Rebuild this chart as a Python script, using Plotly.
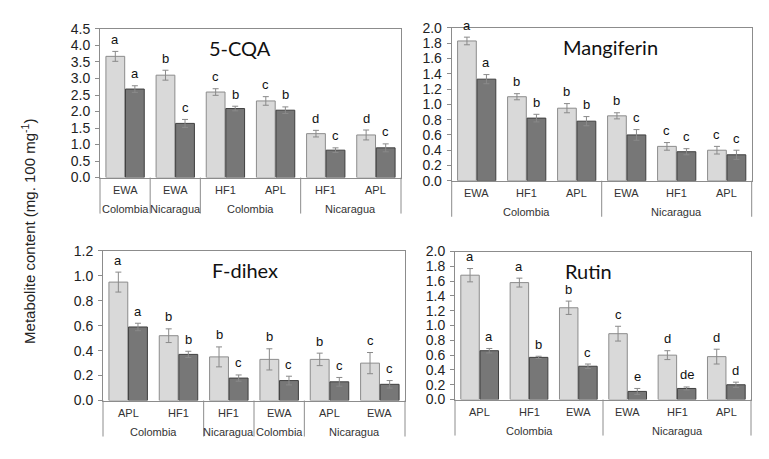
import plotly.graph_objects as go

# ---------------- data ----------------
cqa_cultivar = ["EWA", "EWA", "HF1", "APL", "HF1", "APL"]
cqa_origin = ["Colombia", "Nicaragua", "Colombia", "Colombia", "Nicaragua", "Nicaragua"]
cqa_light = [3.67, 3.10, 2.59, 2.32, 1.33, 1.29]
cqa_light_err = [0.15, 0.15, 0.10, 0.13, 0.10, 0.15]
cqa_dark = [2.68, 1.64, 2.09, 2.04, 0.83, 0.90]
cqa_dark_err = [0.10, 0.12, 0.07, 0.10, 0.07, 0.12]
cqa_light_let = ["a", "b", "c", "c", "d", "d"]
cqa_dark_let = ["a", "c", "b", "b", "c", "c"]

man_cultivar = ["EWA", "HF1", "APL", "EWA", "HF1", "APL"]
man_origin = ["Colombia", "Colombia", "Colombia", "Nicaragua", "Nicaragua", "Nicaragua"]
man_light = [1.83, 1.10, 0.95, 0.85, 0.45, 0.40]
man_light_err = [0.05, 0.04, 0.06, 0.04, 0.05, 0.05]
man_dark = [1.33, 0.82, 0.78, 0.60, 0.38, 0.34]
man_dark_err = [0.06, 0.05, 0.06, 0.07, 0.04, 0.06]
man_light_let = ["a", "b", "b", "b", "c", "c"]
man_dark_let = ["a", "b", "b", "c", "c", "c"]

fdh_cultivar = ["APL", "HF1", "HF1", "EWA", "APL", "EWA"]
fdh_origin = ["Colombia", "Colombia", "Nicaragua", "Colombia", "Nicaragua", "Nicaragua"]
fdh_light = [0.95, 0.52, 0.35, 0.33, 0.33, 0.30]
fdh_light_err = [0.08, 0.055, 0.08, 0.085, 0.05, 0.085]
fdh_dark = [0.59, 0.37, 0.18, 0.16, 0.15, 0.13]
fdh_dark_err = [0.03, 0.025, 0.025, 0.035, 0.035, 0.03]
fdh_light_let = ["a", "b", "b", "b", "b", "c"]
fdh_dark_let = ["a", "b", "c", "c", "c", "c"]

rut_cultivar = ["APL", "HF1", "EWA", "EWA", "HF1", "APL"]
rut_origin = ["Colombia", "Colombia", "Colombia", "Nicaragua", "Nicaragua", "Nicaragua"]
rut_light = [1.68, 1.58, 1.24, 0.89, 0.60, 0.58]
rut_light_err = [0.09, 0.06, 0.09, 0.10, 0.06, 0.10]
rut_dark = [0.66, 0.57, 0.45, 0.11, 0.15, 0.20]
rut_dark_err = [0.03, 0.015, 0.03, 0.04, 0.02, 0.035]
rut_light_let = ["a", "a", "b", "c", "d", "d"]
rut_dark_let = ["a", "b", "c", "e", "de", "d"]

panels = [
    dict(title="5-CQA", cult=cqa_cultivar, orig=cqa_origin, light=cqa_light, le=cqa_light_err,
         dark=cqa_dark, de=cqa_dark_err, ll=cqa_light_let, dl=cqa_dark_let, ymax=4.5, dtick=0.5,
         xd=[100, 401], yd=[21.7, 175.7], tx=0.465),
    dict(title="Mangiferin", cult=man_cultivar, orig=man_origin, light=man_light, le=man_light_err,
         dark=man_dark, de=man_dark_err, ll=man_light_let, dl=man_dark_let, ymax=2.0, dtick=0.2,
         xd=[451.7, 751.7], yd=[20.7, 179.0], tx=0.528),
    dict(title="F-dihex", cult=fdh_cultivar, orig=fdh_origin, light=fdh_light, le=fdh_light_err,
         dark=fdh_dark, de=fdh_dark_err, ll=fdh_light_let, dl=fdh_dark_let, ymax=1.2, dtick=0.2,
         xd=[103, 405], yd=[251.7, 406.7], tx=0.47),
    dict(title="Rutin", cult=rut_cultivar, orig=rut_origin, light=rut_light, le=rut_light_err,
         dark=rut_dark, de=rut_dark_err, ll=rut_light_let, dl=rut_dark_let, ymax=2.0, dtick=0.2,
         xd=[455, 751], yd=[252.3, 405.7], tx=0.45),
]

W, H = 769, 459
FONT = "Liberation Sans"
LIGHT, LIGHT_LINE = "#d9d9d9", "#8c8c8c"
DARK, DARK_LINE = "#777777", "#3f3f3f"
ERR = "#8a8a8a"
AX = "#8c8c8c"

fig = go.Figure()
annotations = []
shapes = []
bargap, bgg = 0.22, 0.04
off = (1 - bargap) / 4

for k, p in enumerate(panels):
    xa = "x" if k == 0 else f"x{k+1}"
    ya = "y" if k == 0 else f"y{k+1}"
    xs = list(range(len(p["cult"])))
    fig.add_trace(go.Bar(
        x=xs, y=p["light"], xaxis=xa, yaxis=ya, marker=dict(color=LIGHT, line=dict(color=LIGHT_LINE, width=1)),
        error_y=dict(type="data", array=p["le"], color=ERR, thickness=1, width=3), showlegend=False,
        offsetgroup="l"))
    fig.add_trace(go.Bar(
        x=xs, y=p["dark"], xaxis=xa, yaxis=ya, marker=dict(color=DARK, line=dict(color=DARK_LINE, width=1)),
        error_y=dict(type="data", array=p["de"], color=ERR, thickness=1, width=3), showlegend=False,
        offsetgroup="d"))

    axk = "" if k == 0 else str(k + 1)
    n = len(xs)
    fig.layout[f"xaxis{axk}"] = dict(
        domain=[p["xd"][0] / W, p["xd"][1] / W], anchor=ya, range=[-0.5, n - 0.5],
        showticklabels=False, ticks="", showgrid=False, zeroline=False,
        showline=True, linecolor=AX, linewidth=1, mirror=True, fixedrange=True)
    fig.layout[f"yaxis{axk}"] = dict(
        domain=[1 - p["yd"][1] / H, 1 - p["yd"][0] / H], anchor=xa, range=[0, p["ymax"]],
        dtick=p["dtick"], tick0=0, tickformat=".1f", showgrid=False, zeroline=False,
        showline=True, linecolor=AX, linewidth=1, mirror=True, ticks="outside", ticklen=4,
        tickcolor=AX, tickfont=dict(family=FONT, size=14, color="#222"), ticklabelstandoff=2)

    ydom = ya + " domain"
    xdom = xa + " domain"
    # title
    annotations.append(dict(text=p["title"], xref=xdom, yref=ydom, x=p["tx"], y=1, yshift=-19,
                            xanchor="center", yanchor="middle", showarrow=False,
                            font=dict(family="Lato", size=20, color="#111")))
    # significance letters and cultivar labels
    for i in xs:
        annotations.append(dict(text=p["ll"][i], xref=xa, yref=ya, x=i - off, y=p["light"][i] + p["le"][i],
                                yshift=12, showarrow=False, yanchor="middle",
                                font=dict(family=FONT, size=13, color="#111")))
        annotations.append(dict(text=p["dl"][i], xref=xa, yref=ya, x=i + off, y=p["dark"][i] + p["de"][i],
                                yshift=12, showarrow=False, yanchor="middle",
                                font=dict(family=FONT, size=13, color="#111")))
        annotations.append(dict(text=p["cult"][i], xref=xa, yref=ydom, x=i, y=0, yshift=-12,
                                showarrow=False, yanchor="middle",
                                font=dict(family=FONT, size=11, color="#333")))
    # origin groups (consecutive runs)
    runs = []
    start = 0
    for i in range(1, n + 1):
        if i == n or p["orig"][i] != p["orig"][start]:
            runs.append((start, i - 1, p["orig"][start]))
            start = i
    for a, b, name in runs:
        annotations.append(dict(text=name, xref=xa, yref=ydom, x=(a + b) / 2, y=0, yshift=-31,
                                showarrow=False, yanchor="middle",
                                font=dict(family=FONT, size=11, color="#333")))
    bounds = [runs[0][0] - 0.5] + [b + 0.5 for a, b, _ in runs]
    for bnd in bounds:
        xf = (bnd + 0.5) / n
        shapes.append(dict(type="line", xref=xdom, yref=ydom, x0=xf, x1=xf, ysizemode="pixel",
                           yanchor=0, y0=0, y1=-36, line=dict(color=AX, width=1)))

annotations.append(dict(text="Metabolite content (mg. 100 mg<sup>-1</sup>)", xref="paper", yref="paper",
                        x=29 / W, y=1 - 232 / H, textangle=-90, showarrow=False,
                        xanchor="center", yanchor="middle",
                        font=dict(family=FONT, size=15, color="#222")))

fig.update_layout(
    width=W, height=H, margin=dict(l=0, r=0, t=0, b=0),
    paper_bgcolor="white", plot_bgcolor="white",
    barmode="group", bargap=bargap, bargroupgap=bgg,
    annotations=annotations, shapes=shapes, showlegend=False,
)

fig.write_html("out.html", config={"displayModeBar": False},
               post_script="document.body.style.margin='0';document.body.style.padding='0';")
